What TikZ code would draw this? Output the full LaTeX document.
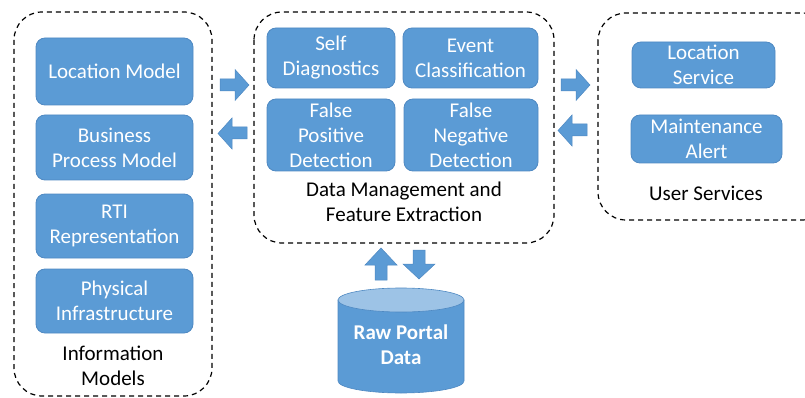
\documentclass[tikz,border=0pt]{standalone}
\usepackage{fontspec}
\setmainfont{Carlito}
\usetikzlibrary{shapes.geometric}
\definecolor{boxblue}{HTML}{5B9BD5}
\definecolor{boxline}{HTML}{4F89C2}
\definecolor{toplight}{HTML}{9DC3E6}
\tikzset{
  bluebox/.style={draw=boxline, line width=0.8pt, fill=boxblue, rounded corners=9pt, text=white,
    font=\fontsize{21}{25}\selectfont, align=center, inner sep=0pt},
  group/.style={draw=black, dashed, dash pattern=on 5pt off 4pt, line width=1.2pt, rounded corners=28pt},
  grouplabel/.style={font=\fontsize{21}{25}\selectfont, align=center, text=black},
  blockarrow/.style={fill=boxblue, draw=boxline, line width=0.5pt}
}
\begin{document}
\begin{tikzpicture}[x=1pt,y=-1pt]
\useasboundingbox (0,0) rectangle (805,398);
% group frames
\draw[group] (14,12) rectangle (212,396);
\draw[group] (254,12) rectangle (554,243);
\draw[group] (598,13) rectangle (830,220);
% left boxes
\node[bluebox, minimum width=157pt, minimum height=67pt] (lm) at (114.5,71.5) {Location Model};
\node[bluebox, minimum width=157pt, minimum height=65pt] (bpm) at (114.5,147.5) {Business\\Process Model};
\node[bluebox, minimum width=157pt, minimum height=64pt] (rti) at (114.5,226) {RTI\\Representation};
\node[bluebox, minimum width=157pt, minimum height=64pt] (phy) at (114.5,301) {Physical\\Infrastructure};
\node[grouplabel] (iml) at (113,366) {Information\\Models};
% middle boxes
\node[bluebox, minimum width=128pt, minimum height=60pt] (sd) at (331,58) {Self\\Diagnostics};
\node[bluebox, minimum width=135pt, minimum height=60pt] (ec) at (470.5,58) {Event\\Classification};
\node[bluebox, minimum width=128pt, minimum height=72pt] (fp) at (331,135) {False\\Positive\\Detection};
\node[bluebox, minimum width=134pt, minimum height=72pt] (fn) at (471,135) {False\\Negative\\Detection};
\node[grouplabel] (dml) at (404,202) {Data Management and\\Feature Extraction};
% right boxes
\node[bluebox, minimum width=143pt, minimum height=46pt] (ls) at (703.5,65) {Location\\Service};
\node[bluebox, minimum width=151pt, minimum height=48pt] (ma) at (706.5,139) {Maintenance\\Alert};
\node[grouplabel] (usl) at (706,193) {User Services};
% block arrows horizontal
\path[blockarrow] (220,79) -- (235,79) -- (235,69.5) -- (249,85) -- (235,100.5) -- (235,91) -- (220,91) -- cycle;
\path[blockarrow] (247,127) -- (232,127) -- (232,118) -- (218,133.5) -- (232,149) -- (232,139) -- (247,139) -- cycle;
\path[blockarrow] (561,79) -- (576,79) -- (576,69.5) -- (590,85) -- (576,100.5) -- (576,91) -- (561,91) -- cycle;
\path[blockarrow] (587,124) -- (572,124) -- (572,115) -- (558,130.5) -- (572,146) -- (572,136) -- (587,136) -- cycle;
% vertical arrows
\path[blockarrow] (375,280) -- (375,265) -- (365,265) -- (381,248) -- (397,265) -- (387,265) -- (387,280) -- cycle;
\path[blockarrow] (413,250) -- (413,264) -- (403,264) -- (419,279) -- (435,264) -- (425,264) -- (425,250) -- cycle;
% cylinder
\path[fill=boxblue, draw=boxline, line width=0.6pt] (338,300) -- (338,381) arc[start angle=180, end angle=360, x radius=63pt, y radius=12pt] -- (464,300) -- cycle;
\path[fill=toplight, draw=boxline, line width=0.6pt] (401,300) ellipse[x radius=63pt, y radius=12pt];
\node[text=white, font=\bfseries\fontsize{21}{25}\selectfont, align=center] (raw) at (401,345) {Raw Portal\\Data};
\end{tikzpicture}
\end{document}
